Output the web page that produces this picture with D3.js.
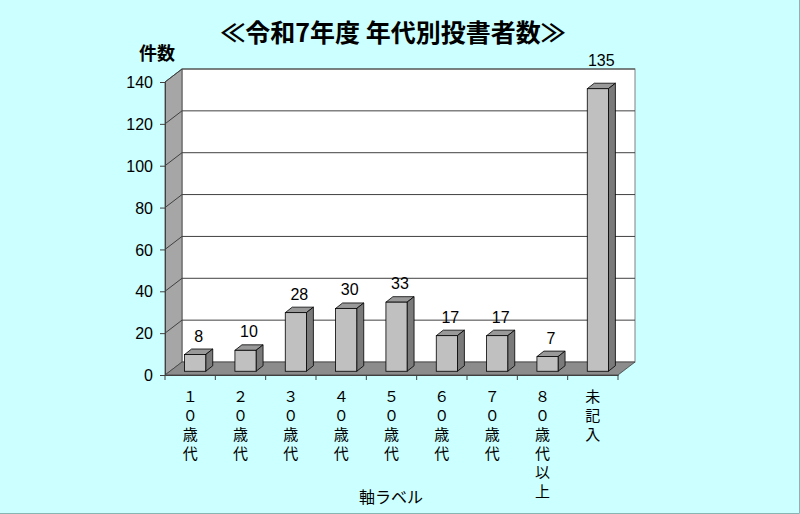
<!DOCTYPE html>
<html>
<head>
<meta charset="utf-8">
<script src="https://cdn.jsdelivr.net/npm/d3@7"></script>
<style>
  body { margin: 0; background: #ccffff; }
  svg { display: block; }
  text { font-family: "Noto Sans CJK JP", "Liberation Sans", sans-serif; fill: #000; }
  .num { font-family: "Liberation Sans", Arial, sans-serif; }
</style>
</head>
<body>
<svg id="chart"></svg>
<script>
// data
const categories = ["１０歳代", "２０歳代", "３０歳代", "４０歳代", "５０歳代", "６０歳代", "７０歳代", "８０歳代以上", "未記入"];
const counts = [8, 10, 28, 30, 33, 17, 17, 7, 135];
const yTicks = [0, 20, 40, 60, 80, 100, 120, 140];
const titleText = "≪令和7年度 年代別投書者数≫";
const yLabel = "件数";
const xLabel = "軸ラベル";

const width = 800;
const height = 514;
const plotLeft = 165, plotRight = 618, plotBottom = 375, plotTop = 82;
const depthX = 17, depthY = -13;   // floor / wall depth
const barDX = 7, barDY = -5.5;     // bar depth

const svg = d3.select("#chart")
    .attr("width", width)
    .attr("height", height);

svg.append("rect")
    .attr("width", width)
    .attr("height", height)
    .attr("fill", "#ccffff");

// frame edge at right and bottom
svg.append("path")
    .attr("d", `M${width - 0.5},0V${height - 0.5}H0`)
    .attr("fill", "none")
    .attr("stroke", "#88b4b4");

const x = d3.scaleBand()
    .domain(categories)
    .range([plotLeft, plotRight])
    .paddingInner(0)
    .paddingOuter(0);

const y = d3.scaleLinear()
    .domain([0, 140])
    .range([plotBottom, plotTop]);

// back wall
svg.append("rect")
    .attr("x", plotLeft + depthX)
    .attr("y", plotTop + depthY)
    .attr("width", plotRight - plotLeft)
    .attr("height", plotBottom - plotTop)
    .attr("fill", "#fff")
    .attr("stroke", "#808080");

// side wall
svg.append("polygon")
    .attr("points", [[plotLeft, plotBottom], [plotLeft + depthX, plotBottom + depthY], [plotLeft + depthX, plotTop + depthY], [plotLeft, plotTop]].join(" "))
    .attr("fill", "#a6a6a6")
    .attr("stroke", "#404040")
    .attr("stroke-width", 0.8);

// grid lines on back wall and side wall
const grid = svg.append("g").attr("stroke", "#404040").attr("stroke-width", 1);
yTicks.filter(d => d > 0).forEach(d => {
    grid.append("line")
        .attr("x1", plotLeft + depthX).attr("x2", plotRight + depthX)
        .attr("y1", y(d) + depthY).attr("y2", y(d) + depthY);
    grid.append("line")
        .attr("x1", plotLeft).attr("x2", plotLeft + depthX)
        .attr("y1", y(d)).attr("y2", y(d) + depthY);
});

// floor
svg.append("polygon")
    .attr("points", [[plotLeft, plotBottom], [plotRight, plotBottom], [plotRight + depthX, plotBottom + depthY], [plotLeft + depthX, plotBottom + depthY]].join(" "))
    .attr("fill", "#8c8c8c")
    .attr("stroke", "#404040")
    .attr("stroke-width", 0.8);

// y axis
svg.append("g")
    .attr("transform", `translate(${plotLeft},0)`)
    .call(d3.axisLeft(y).tickValues(yTicks).tickSize(5).tickPadding(7))
    .call(g => g.select(".domain").attr("stroke", "#404040"))
    .call(g => g.selectAll(".tick line").attr("stroke", "#404040"))
    .call(g => g.selectAll(".tick text")
        .attr("class", "num")
        .attr("font-size", 16)
        .attr("dy", "0.35em")
        .attr("font-family", "Liberation Sans, Arial, sans-serif"));

// x axis
svg.append("g")
    .attr("transform", `translate(0,${plotBottom})`)
    .call(d3.axisBottom(x).tickSize(0).tickFormat(""))
    .call(g => g.select(".domain").attr("stroke", "#404040"));

const xTickPos = [plotLeft].concat(categories.map(c => x(c) + x.bandwidth()));
svg.append("g").selectAll("line")
    .data(xTickPos)
    .join("line")
    .attr("x1", d => d).attr("x2", d => d)
    .attr("y1", plotBottom).attr("y2", plotBottom + 5)
    .attr("stroke", "#404040");

// bars (3D)
const barW = x.bandwidth() * 0.42;
const offX = (depthX - barDX) / 2;
const offY = (depthY - barDY) / 2;
const wallTop = plotTop + depthY;

const bars = svg.append("g")
    .selectAll("g")
    .data(categories.map((c, i) => ({ cat: c, value: counts[i] })))
    .join("g");

bars.each(function(d) {
    const g = d3.select(this);
    const x0 = x(d.cat) + (x.bandwidth() - barW) / 2 + offX;
    const x1 = x0 + barW;
    const yb = plotBottom + offY;
    const yt = y(d.value) + offY;

    g.append("polygon") // top
        .attr("points", [[x0, yt], [x1, yt], [x1 + barDX, yt + barDY], [x0 + barDX, yt + barDY]].join(" "))
        .attr("fill", "#999")
        .attr("stroke", "#000").attr("stroke-width", 0.8).attr("stroke-linejoin", "round");
    g.append("polygon") // side
        .attr("points", [[x1, yb], [x1 + barDX, yb + barDY], [x1 + barDX, yt + barDY], [x1, yt]].join(" "))
        .attr("fill", "#7a7a7a")
        .attr("stroke", "#000").attr("stroke-width", 0.8).attr("stroke-linejoin", "round");
    g.append("rect") // front
        .attr("x", x0).attr("y", yt)
        .attr("width", barW).attr("height", yb - yt)
        .attr("fill", "#c0c0c0")
        .attr("stroke", "#000").attr("stroke-width", 0.8);

    // label above the bar; pushed over the wall edge if it would cross it
    let ly = yt - 13;
    if (ly < wallTop + 12) ly = wallTop - 3;
    g.append("text")
        .attr("class", "num")
        .attr("x", x0 + barW / 2 + barDX / 2)
        .attr("y", ly)
        .attr("text-anchor", "middle")
        .attr("font-size", 16)
        .text(d.value);
});

// vertical category labels, one character per line
const labelG = svg.append("g")
    .attr("text-anchor", "middle")
    .attr("font-size", 15);

categories.forEach(c => {
    Array.from(c).forEach((ch, i) => {
        labelG.append("text")
            .attr("x", x(c) + x.bandwidth() / 2)
            .attr("y", 397 + i * 19)
            .attr("dy", "0.35em")
            .text(ch);
    });
});

// titles
svg.append("text")
    .attr("x", 393)
    .attr("y", 42)
    .attr("text-anchor", "middle")
    .attr("font-size", 25)
    .attr("font-weight", "bold")
    .text(titleText);

svg.append("text")
    .attr("x", 157)
    .attr("y", 60)
    .attr("text-anchor", "middle")
    .attr("font-size", 18)
    .attr("font-weight", "bold")
    .text(yLabel);

svg.append("text")
    .attr("x", 391)
    .attr("y", 503)
    .attr("text-anchor", "middle")
    .attr("font-size", 16)
    .text(xLabel);
</script>
</body>
</html>
